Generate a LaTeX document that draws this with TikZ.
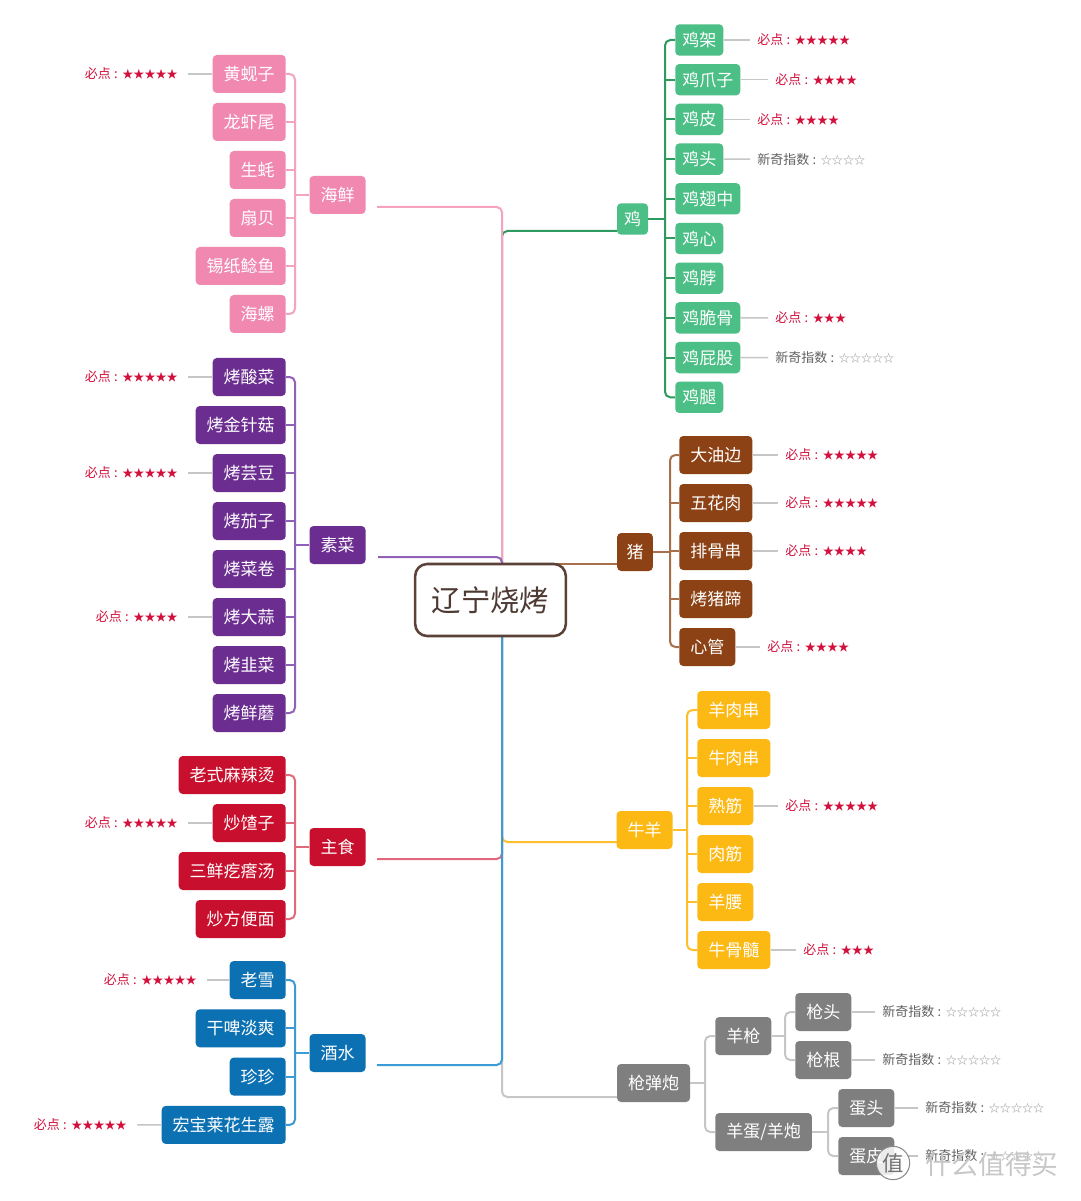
\documentclass[tikz,border=0pt]{standalone}
\usepackage{fontspec}
\setmainfont{Noto Sans CJK SC}
\usetikzlibrary{calc}
\definecolor{cpink}{HTML}{F088B0}
\definecolor{lpink}{HTML}{F4A3C0}
\definecolor{cpurple}{HTML}{6B2D90}
\definecolor{lpurple}{HTML}{9160B8}
\definecolor{cred}{HTML}{C8102E}
\definecolor{lred}{HTML}{E06A7C}
\definecolor{cblue}{HTML}{0C71B3}
\definecolor{lblue}{HTML}{3B9BD6}
\definecolor{cgreen}{HTML}{4CBF86}
\definecolor{lgreen}{HTML}{2F9A5F}
\definecolor{cbrown}{HTML}{8C4215}
\definecolor{lbrown}{HTML}{A8704A}
\definecolor{cyellow}{HTML}{FDB913}
\definecolor{lyellow}{HTML}{FDBF2E}
\definecolor{cgray}{HTML}{7F7F7F}
\definecolor{lgray}{HTML}{C6C6C6}
\definecolor{starred}{HTML}{D2103C}
\definecolor{centerbrd}{HTML}{5B4137}
\definecolor{centertxt}{HTML}{4D3A33}
\newcommand\mystars[1]{{\fontsize{8.3}{10}\selectfont #1}}
\newcommand\mycolon{\hspace{2.5pt}:\hspace{3.5pt}}
\newcommand\mustpt[1]{必点\mycolon\mystars{#1}}
\newcommand\novelpt[1]{新奇指数\mycolon{\color{black!40}\mystars{#1}}}
\tikzset{
  box/.style={rounded corners=3pt, text=white, font=\fontsize{12.75}{15}\selectfont,
    inner xsep=8.25pt, inner ysep=0pt, minimum height=28.5pt},
  cbox/.style={box, minimum height=23.5pt, inner xsep=5.25pt},
  lab/.style={inner sep=0pt, font=\fontsize{9.75}{12}\selectfont, anchor=west},
  must/.style={lab, text=starred},
  novel/.style={lab, text=black!62},
  labline/.style={draw=lgray, line width=1.1pt},
  br/.style={line width=1.5pt, rounded corners=4pt},
}
\begin{document}
\begin{tikzpicture}[x=0.75pt,y=-0.75pt]
\useasboundingbox (0,0) rectangle (1080,1201);
\fill[white] (0,0) rectangle (1080,1201);

% ---------- trunk coordinates
\coordinate (ttop) at (502,564);
\coordinate (tbot) at (502,636);
\coordinate (hxs) at (377,207);
\coordinate (scs) at (378,557);
\coordinate (zss) at (377,859);
\coordinate (jss) at (377,1065);
\coordinate (jis) at (617,231);
\coordinate (nys) at (617,842);
\coordinate (qds) at (617,1097);

% ---------- category nodes
\node[box,fill=cpink] (hx) at (337.5,195) {海鲜};
\node[box,fill=cpurple] (sc) at (337.5,545) {素菜};
\node[box,fill=cred] (zs) at (337.5,847) {主食};
\node[box,fill=cblue] (js) at (337.5,1053) {酒水};
\node[cbox,fill=cgreen] (ji) at (632.5,219) {鸡};
\node[box,fill=cbrown,inner xsep=7pt] (zhu) at (635,552) {猪};
\node[box,fill=cyellow] (ny) at (644.5,830) {牛羊};
\node[box,fill=cgray] (qd) at (653.5,1083) {枪弹炮};

% ---------- main branches
\draw[br,lgreen] (ttop) |- (jis);
\draw[br,lpink] (hxs) -| (ttop);
\draw[br,lpurple] (scs) -| (ttop);
\draw[br,lbrown] (ttop) -- (zhu.west |- ttop);
\draw[br,lgray] (tbot) |- (qds);
\draw[br,lyellow] (tbot) |- (nys);
\draw[br,lred] (zss) -| (tbot);
\draw[br,lblue] (jss) -| (tbot);

% ---------- center
\node[draw=centerbrd, line width=1.9pt, rounded corners=9pt, fill=white,
  minimum width=113pt, minimum height=54pt, text=centertxt,
  font=\fontsize{22}{26}\selectfont] (c) at (490.5,600) {辽宁烧烤};

% ---------- seafood
\foreach \t [count=\i] in {黄蚬子,龙虾尾,生蚝,扇贝,锡纸鲶鱼,海螺}
  \node[box,fill=cpink,anchor=east] (s\i) at (286,{74+48*(\i-1)}) {\t};
\coordinate (hxv) at (295,0);
\draw[br,lpink] (hx.west) -- (hx.west -| hxv);
\draw[br,lpink] (s1.east) -- (s1.east -| hxv) -- (s6.east -| hxv) -- (s6.east);
\foreach \i in {2,...,5} \draw[br,lpink] (s\i.east) -- (s\i.east -| hxv);
\node[must,anchor=east] (ls1) at (178,74) {\mustpt{★★★★★}};
\draw[labline,shorten <=7.5pt] (ls1.east) -- (s1.west);

% ---------- vegetables
\foreach \t [count=\i] in {烤酸菜,烤金针菇,烤芸豆,烤茄子,烤菜卷,烤大蒜,烤韭菜,烤鲜蘑}
  \node[box,fill=cpurple,anchor=east] (v\i) at (286,{377+48*(\i-1)}) {\t};
\draw[br,lpurple] (sc.west) -- (sc.west -| hxv);
\draw[br,lpurple] (v1.east) -- (v1.east -| hxv) -- (v8.east -| hxv) -- (v8.east);
\foreach \i in {2,...,7} \draw[br,lpurple] (v\i.east) -- (v\i.east -| hxv);
\node[must,anchor=east] (lv1) at (178,377) {\mustpt{★★★★★}};
\node[must,anchor=east] (lv3) at (178,473) {\mustpt{★★★★★}};
\node[must,anchor=east] (lv6) at (178,617) {\mustpt{★★★★}};
\draw[labline,shorten <=7.5pt] (lv1.east) -- (v1.west);
\draw[labline,shorten <=7.5pt] (lv3.east) -- (v3.west);
\draw[labline,shorten <=7.5pt] (lv6.east) -- (v6.west);

% ---------- staple
\foreach \t [count=\i] in {老式麻辣烫,炒馇子,三鲜疙瘩汤,炒方便面}
  \node[box,fill=cred,anchor=east] (z\i) at (286,{775+48*(\i-1)}) {\t};
\draw[br,lred] (zs.west) -- (zs.west -| hxv);
\draw[br,lred] (z1.east) -- (z1.east -| hxv) -- (z4.east -| hxv) -- (z4.east);
\foreach \i in {2,3} \draw[br,lred] (z\i.east) -- (z\i.east -| hxv);
\node[must,anchor=east] (lz2) at (178,823) {\mustpt{★★★★★}};
\draw[labline,shorten <=7.5pt] (lz2.east) -- (z2.west);

% ---------- drinks
\foreach \t [count=\i] in {老雪,干啤淡爽,珍珍,宏宝莱花生露}
  \node[box,fill=cblue,anchor=east] (d\i) at (286,{980+48.3*(\i-1)}) {\t};
\draw[br,lblue] (js.west) -- (js.west -| hxv);
\draw[br,lblue] (d1.east) -- (d1.east -| hxv) -- (d4.east -| hxv) -- (d4.east);
\foreach \i in {2,3} \draw[br,lblue] (d\i.east) -- (d\i.east -| hxv);
\node[must,anchor=east] (ld1) at (197,980) {\mustpt{★★★★★}};
\node[must,anchor=east] (ld4) at (127,1125) {\mustpt{★★★★★}};
\draw[labline,shorten <=7.5pt] (ld1.east) -- (d1.west);
\draw[labline,shorten <=7.5pt] (ld4.east) -- (d4.west);

% ---------- chicken
\foreach \t [count=\i] in {鸡架,鸡爪子,鸡皮,鸡头,鸡翅中,鸡心,鸡脖,鸡脆骨,鸡屁股,鸡腿}
  \node[cbox,fill=cgreen,anchor=west] (k\i) at (675,{40+39.7*(\i-1)}) {\t};
\coordinate (jiv) at (665,0);
\draw[br,lgreen] (ji.east) -- (ji.east -| jiv);
\draw[br,lgreen] (k1.west) -- (k1.west -| jiv) -- (k10.west -| jiv) -- (k10.west);
\foreach \i in {2,...,9} \draw[br,lgreen] (k\i.west) -- (k\i.west -| jiv);
\node[must] (lk1) at (757,40) {\mustpt{★★★★★}};
\node[must] (lk2) at (775,79.7) {\mustpt{★★★★}};
\node[must] (lk3) at (757,119.4) {\mustpt{★★★★}};
\node[novel] (lk4) at (757,159.1) {\novelpt{☆☆☆☆}};
\node[must] (lk8) at (775,317.9) {\mustpt{★★★}};
\node[novel] (lk9) at (775,357.6) {\novelpt{☆☆☆☆☆}};
\foreach \i in {1,2,3,4,8,9} \draw[labline,shorten >=5.25pt] (k\i.east) -- (lk\i.west);

% ---------- pork
\foreach \t [count=\i] in {大油边,五花肉,排骨串,烤猪蹄,心管}
  \node[box,fill=cbrown,anchor=west] (p\i) at (679,{455+48*(\i-1)}) {\t};
\coordinate (zhuv) at (670,0);
\draw[br,lbrown] (zhu.east) -- (zhu.east -| zhuv);
\draw[br,lbrown] (p1.west) -- (p1.west -| zhuv) -- (p5.west -| zhuv) -- (p5.west);
\foreach \i in {2,3,4} \draw[br,lbrown] (p\i.west) -- (p\i.west -| zhuv);
\node[must] (lp1) at (785,455) {\mustpt{★★★★★}};
\node[must] (lp2) at (785,503) {\mustpt{★★★★★}};
\node[must] (lp3) at (785,551) {\mustpt{★★★★}};
\node[must] (lp5) at (767,647) {\mustpt{★★★★}};
\foreach \i in {1,2,3,5} \draw[labline,shorten >=5.25pt] (p\i.east) -- (lp\i.west);

% ---------- beef & lamb
\foreach \t [count=\i] in {羊肉串,牛肉串,熟筋,肉筋,羊腰,牛骨髓}
  \node[box,fill=cyellow,anchor=west] (y\i) at (697,{710+48*(\i-1)}) {\t};
\coordinate (nyv) at (687,0);
\draw[br,lyellow] (ny.east) -- (ny.east -| nyv);
\draw[br,lyellow] (y1.west) -- (y1.west -| nyv) -- (y6.west -| nyv) -- (y6.west);
\foreach \i in {2,...,5} \draw[br,lyellow] (y\i.west) -- (y\i.west -| nyv);
\node[must] (ly3) at (785,806) {\mustpt{★★★★★}};
\node[must] (ly6) at (803,950) {\mustpt{★★★}};
\foreach \i in {3,6} \draw[labline,shorten >=5.25pt] (y\i.east) -- (ly\i.west);

% ---------- qiang dan pao
\node[box,fill=cgray,anchor=west] (g1) at (715,1036) {羊枪};
\node[box,fill=cgray,anchor=west] (g2) at (715,1132) {羊蛋/羊炮};
\coordinate (qdv) at (705,0);
\draw[br,lgray] (qd.east) -- (qd.east -| qdv);
\draw[br,lgray] (g1.west) -- (g1.west -| qdv) -- (g2.west -| qdv) -- (g2.west);
\node[box,fill=cgray,anchor=west] (g11) at (795,1012) {枪头};
\node[box,fill=cgray,anchor=west] (g12) at (795,1060) {枪根};
\coordinate (g1v) at (785,0);
\draw[br,lgray] (g1.east) -- (g1.east -| g1v);
\draw[br,lgray] (g11.west) -- (g11.west -| g1v) -- (g12.west -| g1v) -- (g12.west);
\node[box,fill=cgray,anchor=west] (g21) at (838,1108) {蛋头};
\node[box,fill=cgray,anchor=west] (g22) at (838,1156) {蛋皮};
\coordinate (g2v) at (828,0);
\draw[br,lgray] (g2.east) -- (g2.east -| g2v);
\draw[br,lgray] (g21.west) -- (g21.west -| g2v) -- (g22.west -| g2v) -- (g22.west);
\node[novel] (lg11) at (882,1012) {\novelpt{☆☆☆☆☆}};
\node[novel] (lg12) at (882,1060) {\novelpt{☆☆☆☆☆}};
\node[novel] (lg21) at (925,1108) {\novelpt{☆☆☆☆☆}};
\node[novel] (lg22) at (925,1156) {\novelpt{☆☆☆☆☆}};
\foreach \i in {11,12,21,22} \draw[labline,shorten >=5.25pt] (g\i.east) -- (lg\i.west);

% ---------- watermark
\node[circle, draw=black!45, line width=0.8pt, fill=white, fill opacity=0.85, text opacity=1,
  minimum size=25pt, inner sep=0pt, text=black!55, font=\fontsize{16}{18}\selectfont] (wm) at (893,1163) {值};
\node[anchor=west, inner sep=0pt, text=black!22, font=\fontsize{20}{24}\selectfont] (wmt) at (925,1164) {什么值得买};
\end{tikzpicture}
\end{document}
